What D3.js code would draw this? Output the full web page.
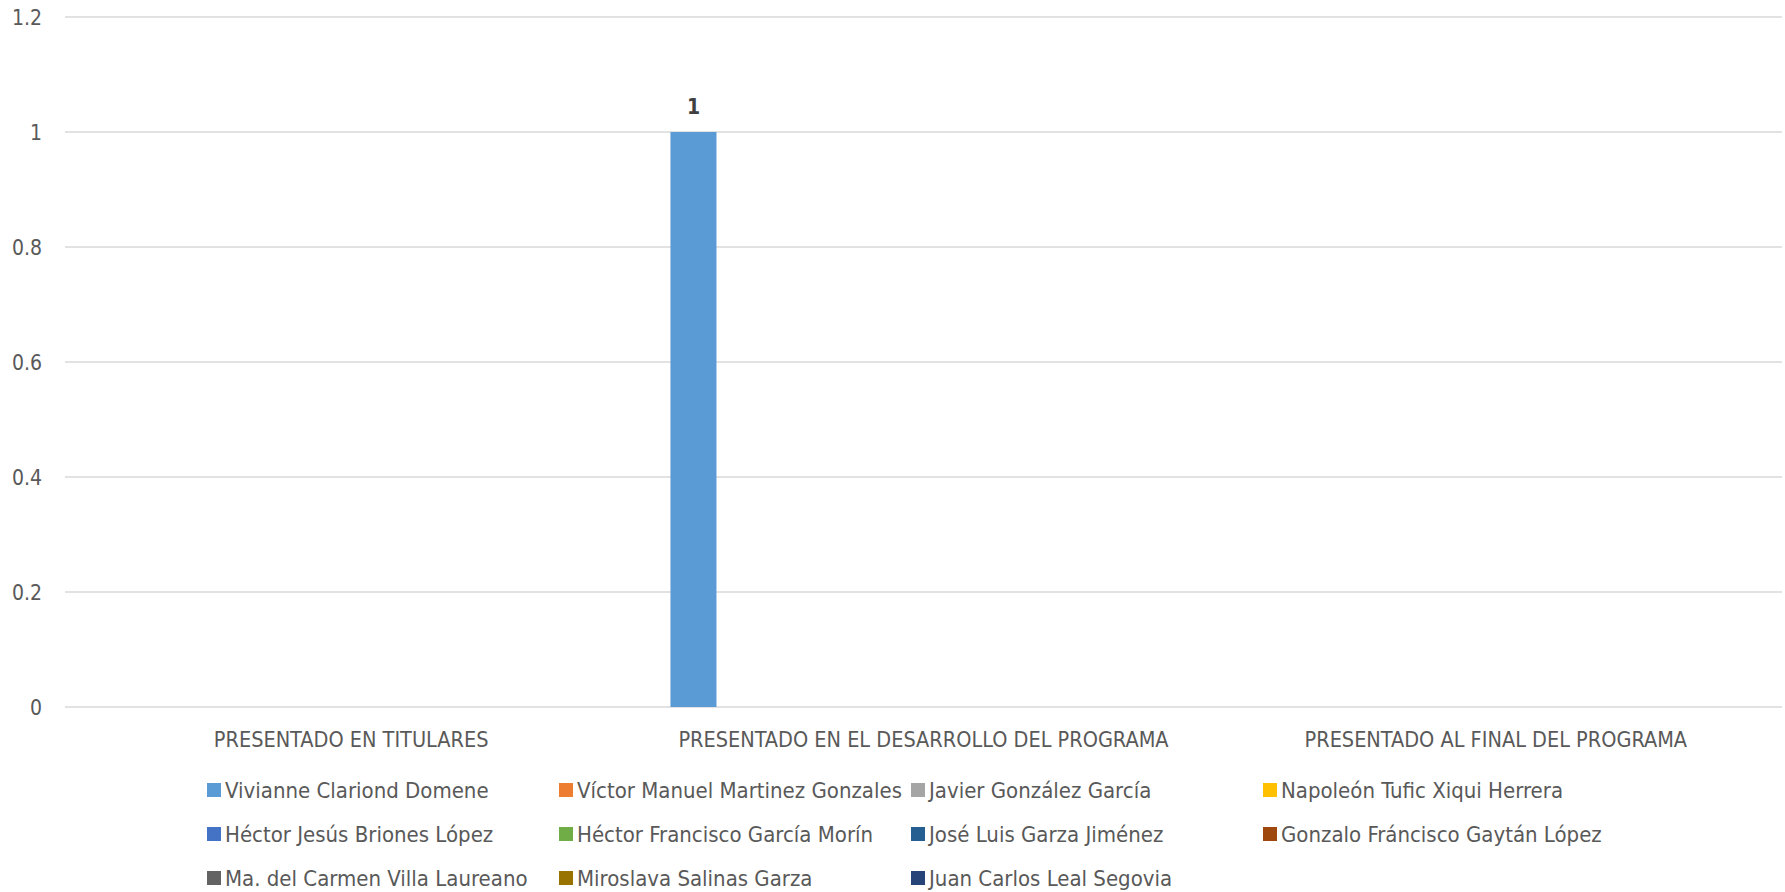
<!DOCTYPE html>
<html>
<head>
<meta charset="utf-8">
<script src="https://cdn.jsdelivr.net/npm/d3@7"></script>
<style>
  body { margin: 0; background: #fff; }
  svg text { font-family: "Liberation Sans Narrow", "DejaVu Sans Condensed", "Arial Narrow", sans-serif; }
</style>
</head>
<body>
<svg id="chart" width="1785" height="892"></svg>
<script>
/* data */
var categories = ["PRESENTADO EN TITULARES", "PRESENTADO EN EL DESARROLLO DEL PROGRAMA", "PRESENTADO AL FINAL DEL PROGRAMA"];

var seriesNames = [
  "Vivianne Clariond Domene",
  "Víctor Manuel Martinez Gonzales",
  "Javier González García",
  "Napoleón Tufic Xiqui Herrera",
  "Héctor Jesús Briones López",
  "Héctor Francisco García Morín",
  "José Luis Garza Jiménez",
  "Gonzalo Fráncisco Gaytán López",
  "Ma. del Carmen Villa Laureano",
  "Miroslava Salinas Garza",
  "Juan Carlos Leal Segovia"
];

var seriesColors = ["#5B9BD5", "#ED7D31", "#A5A5A5", "#FFC000", "#4472C4", "#70AD47",
                    "#255E91", "#9E480E", "#636363", "#997300", "#264478"];

// one row per series, one value per category (null = empty cell)
var seriesValues = [
  [null, 1, null],
  [null, null, null],
  [null, null, null],
  [null, null, null],
  [null, null, null],
  [null, null, null],
  [null, null, null],
  [null, null, null],
  [null, null, null],
  [null, null, null],
  [null, null, null]
];

var yTicks = [0, 0.2, 0.4, 0.6, 0.8, 1, 1.2];

var svg = d3.select("#chart");

/* plot area */
var plot = {left: 65, right: 1782, top: 17, bottom: 707};

var y = d3.scaleLinear().domain([0, 1.2]).range([plot.bottom, plot.top]);

var x0 = d3.scaleBand().domain(categories).range([plot.left, plot.right]).padding(0);

var x1 = d3.scaleBand().domain(seriesNames).range([0, x0.bandwidth()])
    .paddingInner(0).paddingOuter(0.72);

var color = d3.scaleOrdinal().domain(seriesNames).range(seriesColors);

/* gridlines + y labels */
var yAxis = svg.append("g").attr("class", "axis axis--y");

yAxis.selectAll("line")
  .data(yTicks)
  .enter().append("line")
    .attr("x1", plot.left)
    .attr("x2", plot.right)
    .attr("y1", function(d) { return y(d); })
    .attr("y2", function(d) { return y(d); })
    .attr("stroke", "#d9d9d9")
    .attr("stroke-width", 1.5);

yAxis.selectAll("text")
  .data(yTicks)
  .enter().append("text")
    .attr("x", 42)
    .attr("y", function(d) { return y(d) + 7.5; })
    .attr("text-anchor", "end")
    .attr("fill", "#595959")
    .attr("font-size", "21px")
    .text(function(d) { return d3.format("")(d); });

/* bars */
var flat = [];
seriesNames.forEach(function(s, i) {
  categories.forEach(function(c, j) {
    if (seriesValues[i][j] != null) flat.push({series: s, category: c, value: seriesValues[i][j]});
  });
});

var bars = svg.append("g").attr("class", "bars");

bars.selectAll(".bar")
  .data(flat)
  .enter().append("rect")
    .attr("class", "bar")
    .attr("x", function(d) { return x0(d.category) + x1(d.series); })
    .attr("y", function(d) { return y(d.value); })
    .attr("width", x1.bandwidth())
    .attr("height", function(d) { return y(0) - y(d.value); })
    .attr("fill", function(d) { return color(d.series); });

bars.selectAll(".label")
  .data(flat)
  .enter().append("text")
    .attr("class", "label")
    .attr("x", function(d) { return x0(d.category) + x1(d.series) + x1.bandwidth() / 2; })
    .attr("y", function(d) { return y(d.value) - 18; })
    .attr("text-anchor", "middle")
    .attr("fill", "#404040")
    .attr("font-size", "21px")
    .attr("font-weight", "bold")
    .text(function(d) { return d.value; });

/* category labels */
svg.append("g").attr("class", "axis axis--x")
  .selectAll("text")
  .data(categories)
  .enter().append("text")
    .attr("x", function(d) { return x0(d) + x0.bandwidth() / 2; })
    .attr("y", 747)
    .attr("text-anchor", "middle")
    .attr("fill", "#595959")
    .attr("font-size", "21.5px")
    .text(function(d) { return d; });

/* legend: 4 columns, 3 rows */
var legendCol = d3.scaleLinear().domain([0, 1]).range([207, 559]);
var legendRow = d3.scaleLinear().domain([0, 1]).range([790, 834]);

var legend = svg.append("g").attr("class", "legend")
  .selectAll("g")
  .data(seriesNames)
  .enter().append("g")
    .attr("transform", function(d, i) {
      return "translate(" + legendCol(i % 4) + "," + legendRow(Math.floor(i / 4)) + ")";
    });

legend.append("rect")
    .attr("x", 0)
    .attr("y", -7)
    .attr("width", 14)
    .attr("height", 14)
    .attr("fill", function(d) { return color(d); });

legend.append("text")
    .attr("x", 18)
    .attr("y", 7.5)
    .attr("fill", "#595959")
    .attr("font-size", "22px")
    .text(function(d) { return d; });
</script>
</body>
</html>
